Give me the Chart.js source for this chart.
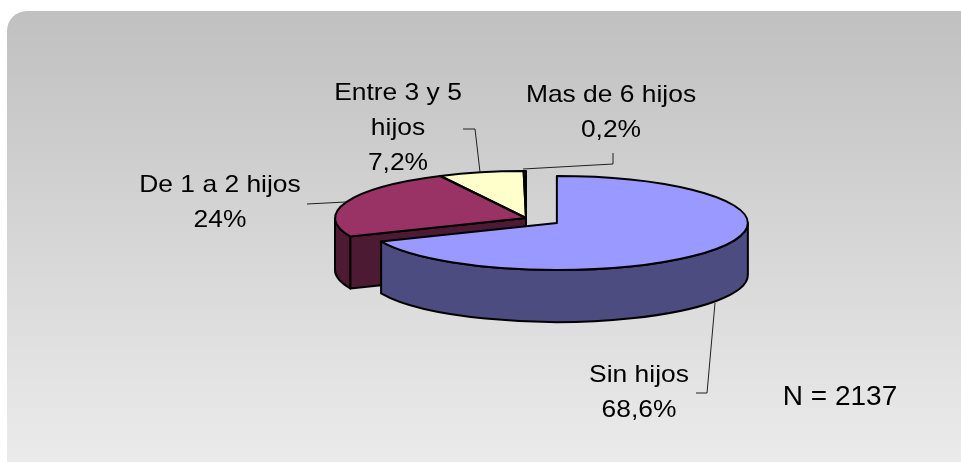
<!DOCTYPE html>
<html lang="es">
<head>
  <meta charset="UTF-8">
  <title>Número de hijos</title>
  <script src="https://cdn.jsdelivr.net/npm/chart.js"></script>
  <style>
    body { margin: 0; background: #fff; }
    canvas { display: block; }
  </style>
</head>
<body>
  <canvas id="myChart" width="961" height="462"></canvas>

  <script>
    // Data
    const categories = ['Sin hijos', 'De 1 a 2 hijos', 'Entre 3 y 5 hijos', 'Mas de 6 hijos'];
    const values = [68.6, 24, 7.2, 0.2];
    const labelLines = [['Sin hijos'], ['De 1 a 2 hijos'], ['Entre 3 y 5', 'hijos'], ['Mas de 6 hijos']];
    const totalN = 2137;

    const topColors = ['#9999FF', '#993366', '#FFFFCC', '#CCFFFF'];
    const sideColors = ['#4C4C80', '#4D1A33', '#808066', '#668080'];

    function pct(v) {
      return String(v).replace('.', ',') + '%';
    }

    // Gradient frame behind the chart
    const framePlugin = {
      id: 'frame',
      beforeDraw(chart) {
        const ctx = chart.ctx;
        const g = ctx.createLinearGradient(0, 11, 0, 462);
        g.addColorStop(0, '#c0c0c0');
        g.addColorStop(1, '#ebebeb');
        ctx.save();
        ctx.fillStyle = g;
        ctx.beginPath();
        ctx.roundRect(7, 11, 990, 490, 20);
        ctx.fill();
        ctx.restore();
      }
    };

    // Draws the pie tilted, with depth and the exploded first slice
    const pie3dPlugin = {
      id: 'pie3d',
      beforeDatasetsDraw(chart, args, opts) {
        const ctx = chart.ctx;
        const k = opts.tilt, depth = opts.depth;
        const arcs = chart.getDatasetMeta(0).data;

        const items = arcs.map((arc, i) => {
          const mid = (arc.startAngle + arc.endAngle) / 2;
          const d = opts.explode[i] || 0;
          return {
            arc, i, mid,
            r: arc.outerRadius,
            ox: arc.x + d * Math.cos(mid),
            oy: arc.y + k * d * Math.sin(mid)
          };
        });
        const pt = (it, a, dy) => [it.ox + it.r * Math.cos(a), it.oy + k * it.r * Math.sin(a) + (dy || 0)];

        ctx.save();
        ctx.lineWidth = opts.lineWidth;
        ctx.strokeStyle = '#000';
        ctx.lineJoin = 'round';

        // sides, back to front
        const order = items.slice().sort((a, b) => Math.sin(a.mid) - Math.sin(b.mid));
        order.forEach(it => {
          const s = it.arc.startAngle, e = it.arc.endAngle;
          ctx.fillStyle = opts.sideColors[it.i];
          const faces = [];
          if (Math.cos(s) < -0.01) faces.push(s);
          if (Math.cos(e) > 0.01) faces.push(e);
          faces.forEach(a => {
            const [x, y] = pt(it, a);
            ctx.beginPath();
            ctx.moveTo(it.ox, it.oy);
            ctx.lineTo(x, y);
            ctx.lineTo(x, y + depth);
            ctx.lineTo(it.ox, it.oy + depth);
            ctx.closePath();
            ctx.fill();
            ctx.stroke();
          });
          const a0 = Math.max(s, 0), a1 = Math.min(e, Math.PI);
          if (a1 > a0) {
            const p1 = pt(it, a1, depth);
            ctx.beginPath();
            ctx.ellipse(it.ox, it.oy, it.r, k * it.r, 0, a0, a1);
            ctx.lineTo(p1[0], p1[1]);
            ctx.ellipse(it.ox, it.oy + depth, it.r, k * it.r, 0, a1, a0, true);
            ctx.closePath();
            ctx.fill();
            ctx.stroke();
          }
        });

        // top faces drawn by the arc elements, squashed
        items.forEach(it => {
          ctx.save();
          ctx.translate(it.ox, it.oy);
          ctx.scale(1, k);
          ctx.translate(-it.arc.x, -it.arc.y);
          it.arc.draw(ctx);
          ctx.restore();
        });

        // outlines of the top faces
        items.forEach(it => {
          ctx.beginPath();
          ctx.moveTo(it.ox, it.oy);
          ctx.ellipse(it.ox, it.oy, it.r, k * it.r, 0, it.arc.startAngle, it.arc.endAngle);
          ctx.closePath();
          ctx.stroke();
        });
        ctx.restore();
        return false;
      },
      afterDraw(chart, args, opts) {
        const ctx = chart.ctx;
        ctx.save();
        // leader lines
        ctx.strokeStyle = '#202020';
        ctx.lineWidth = 1;
        opts.labelPos.forEach(p => {
          ctx.beginPath();
          p.leader.forEach((q, j) => j ? ctx.lineTo(q[0], q[1]) : ctx.moveTo(q[0], q[1]));
          ctx.stroke();
        });
        // label text
        ctx.fillStyle = '#000';
        ctx.textAlign = 'center';
        ctx.textBaseline = 'alphabetic';
        ctx.font = '24px "Liberation Sans", Arial, sans-serif';
        opts.labelPos.forEach((p, i) => {
          const lines = labelLines[i].concat([pct(values[i])]);
          lines.forEach((line, j) => {
            ctx.save();
            ctx.translate(p.x, p.y + j * 35);
            ctx.scale(1.1, 1);
            ctx.fillText(line, 0, 0);
            ctx.restore();
          });
        });
        ctx.font = '28px "Liberation Sans", Arial, sans-serif';
        ctx.fillText('N = ' + totalN, 840, 405);
        ctx.restore();
      }
    };

    const ctx = document.getElementById('myChart').getContext('2d');
    const myChart = new Chart(ctx, {
      type: 'pie',
      data: {
        labels: categories,
        datasets: [{
          data: values,
          backgroundColor: topColors,
          borderWidth: 0,
          radius: 191
        }]
      },
      options: {
        responsive: false,
        animation: false,
        events: [],
        layout: { padding: { left: 91, right: 0, top: 0, bottom: 26 } },
        plugins: {
          legend: { display: false },
          tooltip: { enabled: false },
          pie3d: {
            tilt: 0.246,
            depth: 52,
            lineWidth: 2,
            explode: [37, 0, 0, 0],
            sideColors: sideColors,
            labelPos: [
              { x: 639, y: 382, leader: [[715, 303], [707, 393], [696, 393]] },
              { x: 220, y: 192, leader: [[307, 204], [346, 202]] },
              { x: 398, y: 100, leader: [[463, 129], [475, 129], [480, 172]] },
              { x: 611, y: 102, leader: [[613, 153], [613, 164], [523, 169]] }
            ]
          }
        }
      },
      plugins: [framePlugin, pie3dPlugin]
    });
  </script>
</body>
</html>
